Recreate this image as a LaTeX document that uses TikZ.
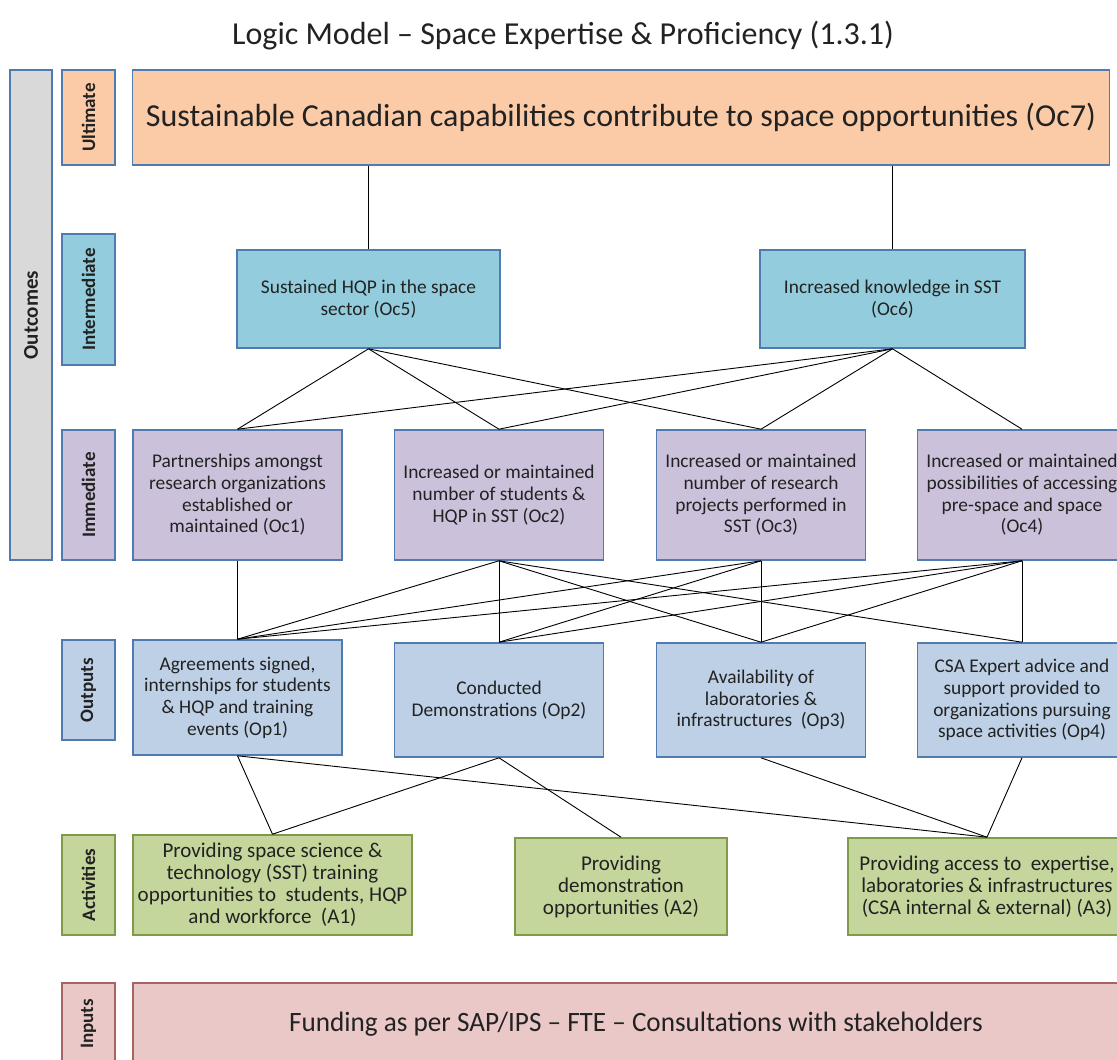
\documentclass[tikz,border=0pt]{standalone}
\usepackage{fontspec}
\setmainfont{Carlito}
\definecolor{bbord}{HTML}{4F7BB0}
\definecolor{gbord}{HTML}{7F9A48}
\definecolor{rbord}{HTML}{A86462}
\definecolor{cgray}{HTML}{D9D9D9}
\definecolor{corange}{HTML}{FBCBA7}
\definecolor{cteal}{HTML}{93CDDD}
\definecolor{cpurple}{HTML}{CCC1DA}
\definecolor{cblue}{HTML}{BDD0E6}
\definecolor{cgreen}{HTML}{C4D69C}
\definecolor{cpink}{HTML}{EBC8C8}
\definecolor{txt}{HTML}{222222}
\begin{document}
\begin{tikzpicture}[x=1pt,y=-1pt,
  box/.style={draw=bbord, line width=1.6pt, inner sep=0pt, align=center, text=txt,
    font=\fontsize{19.4}{21.7}\selectfont},
  actbox/.style={box, fill=cgreen, draw=gbord, font=\fontsize{21}{22}\selectfont},
  lab/.style={box, rotate=90, font=\bfseries\fontsize{19}{21}\selectfont},
  conn/.style={draw=black, line width=0.9pt}]
\useasboundingbox (0,0) rectangle (1117,1060);
\clip (0,0) rectangle (1117,1060);
% title
\node[font=\fontsize{32}{34}\selectfont, text=txt] (title) at (563,36) {Logic Model – Space Expertise \& Proficiency (1.3.1)};
% side labels
\node[lab, fill=cgray, minimum width=490pt, minimum height=42pt, font=\bfseries\fontsize{21}{23}\selectfont] (outc) at (31,315) {Outcomes};
\node[lab, fill=corange, minimum width=95pt, minimum height=53pt] (lult) at (88.5,117.5) {Ultimate};
\node[lab, fill=cteal, minimum width=131pt, minimum height=53pt] (lint) at (88.5,299.5) {Intermediate};
\node[lab, fill=cpurple, minimum width=130pt, minimum height=53pt] (limm) at (88.5,495) {Immediate};
\node[lab, fill=cblue, minimum width=100pt, minimum height=53pt] (lout) at (88.5,690) {Outputs};
\node[lab, fill=cgreen, draw=gbord, minimum width=100pt, minimum height=53pt] (lact) at (88.5,885) {Activities};
\node[lab, fill=cpink, draw=rbord, minimum width=82pt, minimum height=53pt] (linp) at (88.5,1024) {Inputs};
% ultimate
\node[box, fill=corange, minimum width=977pt, minimum height=95pt, font=\fontsize{32}{34}\selectfont] (oc7) at (621,117.5) {Sustainable Canadian capabilities contribute to space opportunities (Oc7)};
% intermediate
\node[box, fill=cteal, minimum width=263pt, minimum height=98pt] (oc5) at (368.5,299) {Sustained HQP in the space\\sector (Oc5)};
\node[box, fill=cteal, minimum width=265pt, minimum height=98pt] (oc6) at (892.5,299) {Increased knowledge in SST\\(Oc6)};
% immediate
\node[box, fill=cpurple, minimum width=209pt, minimum height=130pt] (oc1) at (237.5,495) {Partnerships amongst\\research organizations\\established or\\maintained (Oc1)};
\node[box, fill=cpurple, minimum width=209pt, minimum height=130pt] (oc2) at (499,495) {Increased or maintained\\number of students \&\\HQP in SST (Oc2)};
\node[box, fill=cpurple, minimum width=209pt, minimum height=130pt] (oc3) at (761,495) {Increased or maintained\\number of research\\projects performed in\\SST (Oc3)};
\node[box, fill=cpurple, minimum width=209pt, minimum height=130pt] (oc4) at (1022,495) {Increased or maintained\\possibilities of accessing\\pre-space and space\\(Oc4)};
% outputs
\node[box, fill=cblue, minimum width=209pt, minimum height=115pt] (op1) at (237.5,697.5) {Agreements signed,\\internships for students\\\& HQP and training\\events (Op1)};
\node[box, fill=cblue, minimum width=209pt, minimum height=114pt] (op2) at (499,700) {Conducted\\Demonstrations (Op2)};
\node[box, fill=cblue, minimum width=209pt, minimum height=114pt] (op3) at (761,700) {Availability of\\laboratories \&\\infrastructures~~(Op3)};
\node[box, fill=cblue, minimum width=209pt, minimum height=114pt] (op4) at (1022,700) {CSA Expert advice and\\support provided to\\organizations pursuing\\space activities (Op4)};
% activities
\node[actbox, minimum width=279pt, minimum height=100pt] (a1) at (272.5,885) {Providing space science \&\\technology (SST) training\\opportunities to~~students, HQP\\and workforce~~(A1)};
\node[actbox, minimum width=212pt, minimum height=97pt] (a2) at (621,886.5) {Providing\\demonstration\\opportunities (A2)};
\node[actbox, minimum width=278pt, minimum height=97pt] (a3) at (987,886.5) {Providing access to~~expertise,\\laboratories \& infrastructures\\(CSA internal \& external) (A3)};
% inputs
\node[box, fill=cpink, draw=rbord, minimum width=1006pt, minimum height=82pt, font=\fontsize{28}{30}\selectfont] (inp) at (636,1024) {\scalebox{0.97}[1]{Funding as per SAP/IPS – FTE – Consultations with stakeholders}};
% connectors
\draw[conn] (oc5.north |- oc7.south) -- (oc5.north);
\draw[conn] (oc6.north |- oc7.south) -- (oc6.north);
\foreach \t in {oc1,oc2,oc3} \draw[conn] (oc5.south) -- (\t.north);
\foreach \t in {oc1,oc2,oc3,oc4} \draw[conn] (oc6.south) -- (\t.north);
\draw[conn] (oc1.south) -- (op1.north);
\foreach \t in {op1,op2,op3,op4} \draw[conn] (oc2.south) -- (\t.north);
\foreach \t in {op1,op2,op3} \draw[conn] (oc3.south) -- (\t.north);
\foreach \t in {op1,op2,op3,op4} \draw[conn] (oc4.south) -- (\t.north);
\draw[conn] (op1.south) -- (a1.north);
\draw[conn] (op1.south) -- (a3.north);
\draw[conn] (op2.south) -- (a1.north);
\draw[conn] (op2.south) -- (a2.north);
\draw[conn] (op3.south) -- (a3.north);
\draw[conn] (op4.south) -- (a3.north);
\end{tikzpicture}
\end{document}
